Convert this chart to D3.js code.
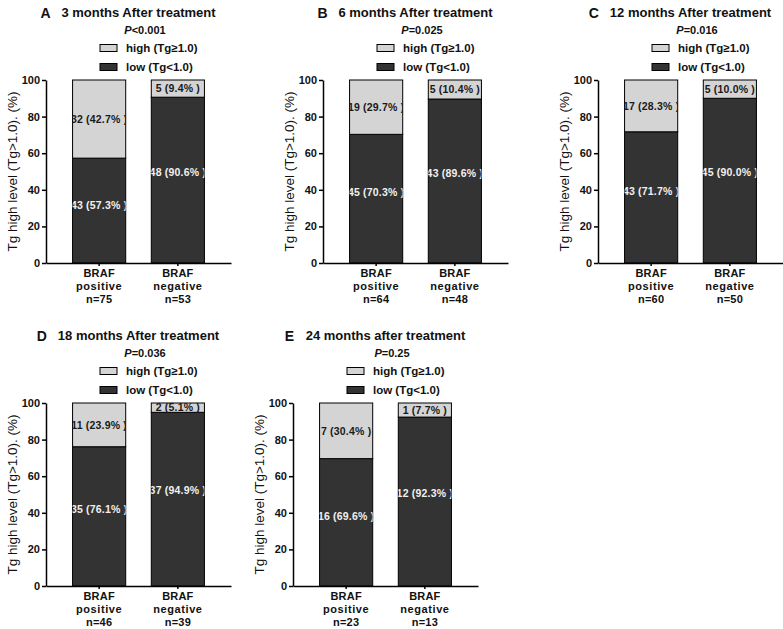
<!DOCTYPE html>
<html>
<head>
<meta charset="utf-8">
<script src="https://cdn.jsdelivr.net/npm/d3@7"></script>
<style>
  html, body { margin: 0; padding: 0; background: #fff; }
  svg { display: block; font-family: "Liberation Sans", Arial, sans-serif; }
</style>
</head>
<body>
<svg id="chart" width="783" height="629"></svg>
<script>
// ---------------- DATA ----------------
const panelLetters = ["A", "B", "C", "D", "E"];
const panelTitles = [
  "3 months After treatment",
  "6 months After treatment",
  "12 months After treatment",
  "18 months After treatment",
  "24 months after treatment"
];
const pValues = ["<0.001", "=0.025", "=0.016", "=0.036", "=0.25"];
const groupLines = [["BRAF", "positive"], ["BRAF", "negative"]];
const nPositive = [75, 64, 60, 46, 23];
const nNegative = [53, 48, 50, 39, 13];
const highPositive = [32, 19, 17, 11, 7];
const highPctPositive = [42.7, 29.7, 28.3, 23.9, 30.4];
const lowPositive = [43, 45, 43, 35, 16];
const lowPctPositive = [57.3, 70.3, 71.7, 76.1, 69.6];
const highNegative = [5, 5, 5, 2, 1];
const highPctNegative = [9.4, 10.4, 10.0, 5.1, 7.7];
const lowNegative = [48, 43, 45, 37, 12];
const lowPctNegative = [90.6, 89.6, 90.0, 94.9, 92.3];
const yTicks = [0, 20, 40, 60, 80, 100];
const legendLabels = ["high (Tg\u22651.0)", "low (Tg<1.0)"];
const yAxisLabel = "Tg high level (Tg>1.0). (%)";

// ---------------- LAYOUT ----------------
const panelX = [46, 323, 598, 46, 293];
const panelTop = [80, 80, 80, 403, 403];
const plotH = 183;
const plotW = 185;
const colLight = "#d4d4d4";
const colDark = "#333333";

const svg = d3.select("#chart");
const defs = svg.append("defs");

panelLetters.forEach((letter, i) => {
  const x0 = panelX[i];
  const yTop = panelTop[i];
  const yBot = yTop + plotH;
  const g = svg.append("g");

  const y = d3.scaleLinear().domain([0, 100]).range([yBot, yTop]);
  const x = d3.scaleBand().domain([0, 1]).range([x0, x0 + plotW])
    .paddingInner(0.325).paddingOuter(0.3375);

  const bars = [
    { g: 0, low: lowPctPositive[i], high: highPctPositive[i], nLow: lowPositive[i], nHigh: highPositive[i], n: nPositive[i] },
    { g: 1, low: lowPctNegative[i], high: highPctNegative[i], nLow: lowNegative[i], nHigh: highNegative[i], n: nNegative[i] }
  ];

  bars.forEach(b => {
    const bx = x(b.g), bw = x.bandwidth();
    const clipId = `clip-${i}-${b.g}`;
    defs.append("clipPath").attr("id", clipId)
      .append("rect").attr("x", bx).attr("y", y(100)).attr("width", bw).attr("height", y(0) - y(100));

    // low segment
    g.append("rect").attr("x", bx).attr("y", y(b.low)).attr("width", bw)
      .attr("height", y(0) - y(b.low)).attr("fill", colDark)
      .attr("stroke", "#000").attr("stroke-width", 1);
    // high segment
    g.append("rect").attr("x", bx).attr("y", y(100)).attr("width", bw)
      .attr("height", y(b.low) - y(100)).attr("fill", colLight)
      .attr("stroke", "#000").attr("stroke-width", 1);

    const lg = g.append("g").attr("clip-path", `url(#${clipId})`);
    lg.append("text")
      .attr("x", bx + bw / 2).attr("y", y(b.low + b.high / 2)).attr("dy", "0.36em")
      .attr("text-anchor", "middle").attr("font-size", 10.5).attr("font-weight", "bold")
      .attr("letter-spacing", 0.2).attr("fill", "#1a1a1a")
      .text(`${b.nHigh} (${b.high.toFixed(1)}% )`);
    lg.append("text")
      .attr("x", bx + bw / 2).attr("y", y(b.low * 0.55)).attr("dy", "0.36em")
      .attr("text-anchor", "middle").attr("font-size", 10.5).attr("font-weight", "bold")
      .attr("letter-spacing", 0.2).attr("fill", "#f0f0f0")
      .text(`${b.nLow} (${b.low.toFixed(1)}% )`);

    // x labels
    const cx = bx + bw / 2;
    const lines = [groupLines[b.g][0], groupLines[b.g][1], `n=${b.n}`];
    lines.forEach((t, k) => {
      g.append("text").attr("x", cx).attr("y", yBot + 14 + k * 13)
        .attr("text-anchor", "middle").attr("font-size", 11).attr("font-weight", "bold")
        .attr("letter-spacing", k === 1 ? 0.6 : 0.2).attr("fill", "#111").text(t);
    });
  });

  // y axis
  const ya = g.append("g").attr("transform", `translate(${x0},0)`)
    .call(d3.axisLeft(y).tickValues(yTicks).tickSize(4).tickSizeOuter(0).tickPadding(2));
  ya.select(".domain").attr("stroke", "#000").attr("stroke-width", 1.5);
  ya.selectAll(".tick line").attr("stroke", "#000").attr("stroke-width", 1.5);
  ya.selectAll(".tick text").attr("font-size", 11).attr("font-weight", "bold")
    .attr("fill", "#111").attr("font-family", "Liberation Sans, Arial, sans-serif");

  // x axis
  const xa = g.append("g").attr("transform", `translate(0,${yBot})`)
    .call(d3.axisBottom(x).tickSize(3).tickSizeOuter(0).tickFormat(""));
  xa.select(".domain").attr("stroke", "#000").attr("stroke-width", 1.5);
  xa.selectAll(".tick line").attr("stroke", "#000").attr("stroke-width", 1.5);

  // y axis title
  g.append("text")
    .attr("transform", `translate(${x0 - 29},${(yTop + yBot) / 2}) rotate(-90)`)
    .attr("text-anchor", "middle").attr("font-size", 13.5).attr("fill", "#111")
    .text(yAxisLabel);

  // title
  const titleCx = x0 + 92.5;
  const title = g.append("text").attr("x", titleCx).attr("y", yTop - 63)
    .attr("text-anchor", "middle").attr("font-size", 13).attr("font-weight", "bold")
    .attr("fill", "#111").text(panelTitles[i]);
  const tw = title.node().getComputedTextLength();
  const textStart = titleCx - tw / 2;
  g.append("text").attr("x", Math.max(textStart - 21, x0 - 11)).attr("y", yTop - 62)
    .attr("font-size", 14).attr("font-weight", "bold").attr("fill", "#111").text(letter);

  // P value
  const pt = g.append("text").attr("x", x0 + 99).attr("y", yTop - 46)
    .attr("text-anchor", "middle").attr("font-size", 11).attr("font-weight", "bold").attr("fill", "#111");
  pt.append("tspan").attr("font-style", "italic").text("P");
  pt.append("tspan").text(pValues[i]);

  // legend
  legendLabels.forEach((lab, k) => {
    const ly = yTop - 32 + k * 19;
    g.append("rect").attr("x", x0 + 54).attr("y", ly - 3.5).attr("width", 17).attr("height", 7)
      .attr("fill", k === 0 ? colLight : colDark).attr("stroke", "#000").attr("stroke-width", 1);
    g.append("text").attr("x", x0 + 80).attr("y", ly).attr("dy", "0.36em")
      .attr("font-size", 11.5).attr("font-weight", "bold").attr("fill", "#111").text(lab);
  });
});
</script>
</body>
</html>
